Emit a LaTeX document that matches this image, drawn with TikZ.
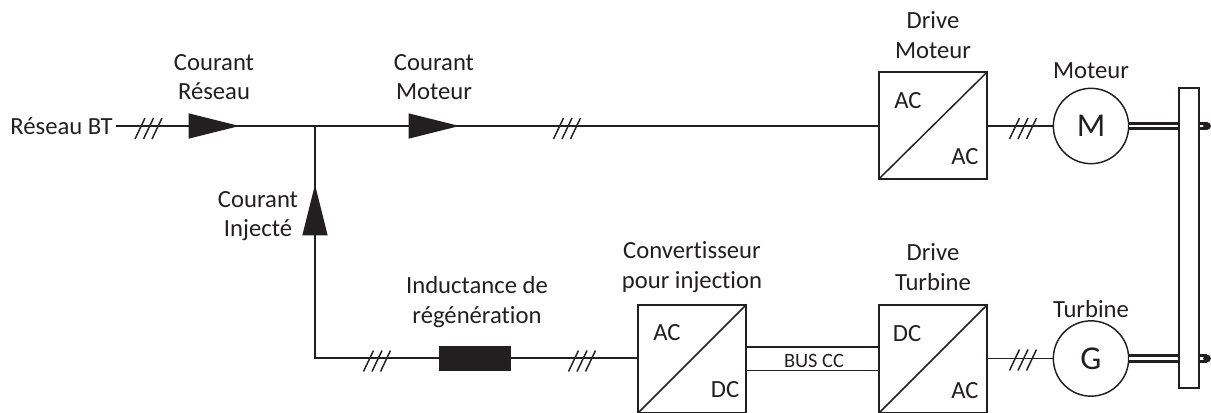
\documentclass[tikz,border=0pt]{standalone}
\usepackage{fontspec}
\setmainfont[Ligatures=NoCommon]{Carlito}
\usepackage{tikz}
\usetikzlibrary{shapes.geometric, positioning, calc}
\definecolor{cInk}{HTML}{231F20}
\tikzset{
  wire/.style={draw=cInk, line width=1.1pt},
  label/.style={font=\fontsize{18.5}{22.3}\selectfont, text=cInk, align=center, inner sep=0pt},
  conv/.style={wire, rectangle, minimum width=81pt, minimum height=80pt, inner sep=0pt},
  motor/.style={wire, circle, minimum size=56.5pt, inner sep=0pt, font=\fontsize{25}{30}\selectfont, text=cInk},
  current/.style={isosceles triangle, isosceles triangle stretches, fill=cInk, inner sep=0pt,
    minimum height=38pt, minimum width=19pt, anchor=apex},
  shaft/.style={draw=cInk, line width=2.2pt, double=white, double distance=2.2pt},
  slashes/.pic={
    \foreach \dx in {-8.5,0,8.5}
      \draw[wire] (\dx-5,10.5) -- (\dx+5,-10.5);
  },
}
\begin{document}
\begin{tikzpicture}[x=0.75pt, y=-0.75pt]
  \useasboundingbox (0,0) rectangle (1211,412);

  % Line side
  \node[label, anchor=east] (bt) at (113,126) {Réseau BT};
  \coordinate (tee) at (315,126);
  \coordinate (corner) at (315,358);

  % Converters
  \node[conv] (dmot) at (933,125.5) {};
  \node[conv, minimum height=81pt] (dtur) at (933,359) {};
  \node[conv, minimum height=81pt] (cinj) at (692,359) {};
  \foreach \b in {dmot,dtur,cinj}
    \draw[wire] (\b.south west) -- (\b.north east);

  % Machines and beam
  \node[motor] (mot) at (1091,126) {M};
  \node[motor] (gen) at (1091,358.5) {G};
  \node[wire, rectangle, minimum width=15pt, minimum height=225pt, inner sep=0pt] (beam) at (1189,238) {};
  \node[rectangle, fill=cInk, minimum width=54pt, minimum height=19pt, inner sep=0pt] (coil) at (475,358.5) {};

  % Box texts
  \node[label] (ac1) at (908,101) {AC};
  \node[label] (ac2) at (965,157) {AC};
  \node[label] (dc3) at (907,334) {DC};
  \node[label] (ac4) at (965,391) {AC};
  \node[label] (ac5) at (667,333) {AC};
  \node[label] (dc6) at (725,390) {DC};

  % Wires
  \draw[wire] (bt.east) ++(3,0) -- (tee) -- (tee -| dmot.west);
  \draw[wire] (tee) -- (corner) -- (corner -| coil.west);
  \draw[wire] (corner -| coil.east) -- (corner -| cinj.west);
  \draw[wire] (mot -| dmot.east) -- (mot.west);
  \draw[wire] (gen -| dtur.east) -- (gen.west);
  \draw[wire] (cinj.east |- 0,347) -- (dtur.west |- 0,347);
  \draw[wire] (cinj.east |- 0,370.5) -- (dtur.west |- 0,370.5);
  \node[label, font=\fontsize{15.3}{18}\selectfont] (bus) at (814,360.5) {BUS CC};

  % Shafts
  \draw[shaft] (mot.east) -- (mot -| beam.west);
  \draw[shaft] (gen.east) -- (gen -| beam.west);
  \coordinate (motend) at (1207,126);
  \coordinate (genend) at (1207,358.5);
  \draw[shaft] (mot -| beam.east) -- (motend);
  \draw[shaft] (gen -| beam.east) -- (genend);
  \fill[cInk] (motend) circle (2.9pt);
  \fill[cInk] (genend) circle (2.9pt);

  % Current arrows
  \node[current] (ires) at (240,126) {};
  \node[current] (imot) at (460,126) {};
  \node[current, shape border rotate=90] (iinj) at (315,184) {};

  % Three phase marks
  \pic at (148.5,128.5) {slashes};
  \pic at (567,128.5) {slashes};
  \pic at (377,361) {slashes};
  \pic at (582,361) {slashes};
  \pic at (1023,128.5) {slashes};
  \pic at (1023,360) {slashes};

  % Labels
  \node[label] (lres) at (214,77) {Courant\\Réseau};
  \node[label] (lmot) at (434,77) {Courant\\Moteur};
  \node[label] (linj) at (258,216) {Courant\\Injecté};
  \node[label] (ldmot) at (933,35) {Drive\\Moteur};
  \node[label] (ldtur) at (933,267) {Drive\\Turbine};
  \node[label] (lcinj) at (692,267) {Convertisseur\\pour injection};
  \node[label] (lcoil) at (477,302) {Inductance de\\régénération};
  \node[label] (lm) at (1091,71) {Moteur};
  \node[label] (lg) at (1091,309) {Turbine};
\end{tikzpicture}
\end{document}
